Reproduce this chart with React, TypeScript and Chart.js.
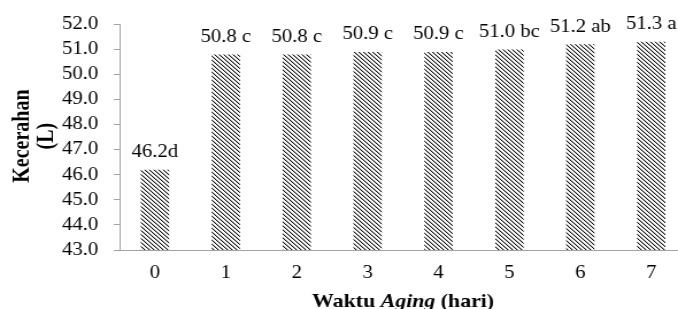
import React, { useEffect, useRef } from 'react';
import { Chart, registerables } from 'chart.js';

Chart.register(...registerables);

// ---- data ----
const categories = ['0', '1', '2', '3', '4', '5', '6', '7'];
const values = [46.2, 50.8, 50.8, 50.9, 50.9, 51.0, 51.2, 51.3];
const valueLabels = ['46.2d', '50.8 c', '50.8 c', '50.9 c', '50.9 c', '51.0 bc', '51.2 ab', '51.3 a'];
const yMin = 43;
const yMax = 52;
const yStep = 1;
const yTitleLines = ['Kecerahan', '(L)'];
const xTitleParts = [
  { text: 'Waktu ', italic: false },
  { text: 'Aging', italic: true },
  { text: ' (hari)', italic: false },
];

// ---- layout / style ----
const SERIF = '"Liberation Serif", "Times New Roman", serif';
const STRETCH = 678 / 590; // reference is horizontally stretched
const CW = 610;
const CH = 309;
const AXIS = '#a3a3a3';

function makeHatch(): CanvasPattern | string {
  const c = document.createElement('canvas');
  c.width = 4;
  c.height = 4;
  const g = c.getContext('2d');
  if (!g) return '#888';
  g.fillStyle = '#ffffff';
  g.fillRect(0, 0, 4, 4);
  for (let y = 0; y < 4; y++) {
    for (let x = 0; x < 4; x++) {
      const d = (((x - y) % 4) + 4) % 4;
      if (d === 0) {
        g.fillStyle = '#111111';
        g.fillRect(x, y, 1, 1);
      } else if (d === 1) {
        g.fillStyle = '#b8b8b8';
        g.fillRect(x, y, 1, 1);
      }
    }
  }
  const p = g.createPattern(c, 'repeat');
  return p || '#888';
}

const labelPlugin = {
  id: 'valueLabels',
  afterDatasetsDraw(chart: any) {
    const { ctx } = chart;
    const meta = chart.getDatasetMeta(0);
    ctx.save();
    ctx.fillStyle = '#000';
    ctx.font = `18px ${SERIF}`;
    ctx.textAlign = 'center';
    ctx.textBaseline = 'alphabetic';
    meta.data.forEach((bar: any, i: number) => {
      ctx.fillText(valueLabels[i], bar.x, bar.y - 12.5);
    });
    ctx.restore();
  },
};

const titlePlugin = {
  id: 'axisTitles',
  afterDraw(chart: any) {
    const { ctx, chartArea } = chart;
    ctx.save();
    ctx.fillStyle = '#000';
    // y title (rotated, two lines)
    ctx.font = `bold 20px ${SERIF}`;
    ctx.textAlign = 'center';
    ctx.textBaseline = 'alphabetic';
    const cy = (chartArea.top + chartArea.bottom) / 2 - 1;
    const baselines = [24.6, 45.5];
    yTitleLines.forEach((line, i) => {
      ctx.save();
      ctx.translate(baselines[i], cy);
      ctx.rotate(-Math.PI / 2);
      ctx.fillText(line, 0, 0);
      ctx.restore();
    });
    // x title (mixed italic)
    const fontFor = (it: boolean) => `${it ? 'italic ' : ''}bold 19px ${SERIF}`;
    let total = 0;
    const widths = xTitleParts.map((p) => {
      ctx.font = fontFor(p.italic);
      const w = ctx.measureText(p.text).width;
      total += w;
      return w;
    });
    let x = (chartArea.left + chartArea.right) / 2 - total / 2;
    ctx.textAlign = 'left';
    xTitleParts.forEach((p, i) => {
      ctx.font = fontFor(p.italic);
      ctx.fillText(p.text, x, chart.height - 2.5);
      x += widths[i];
    });
    ctx.restore();
  },
};

export default function App() {
  const ref = useRef<HTMLCanvasElement>(null);

  useEffect(() => {
    const canvas = ref.current;
    if (!canvas) return;
    const hatch = makeHatch();
    const chart = new Chart(canvas, {
      type: 'bar',
      data: {
        labels: categories,
        datasets: [
          {
            data: values,
            backgroundColor: hatch as any,
            borderWidth: 0,
            barPercentage: 0.8,
            categoryPercentage: 0.5,
          },
        ],
      },
      options: {
        responsive: false,
        animation: false,
        devicePixelRatio: 1,
        layout: { padding: { left: 40.5, right: 12.5, top: 22.7, bottom: 12.4 } },
        plugins: {
          legend: { display: false },
          tooltip: { enabled: false },
          title: { display: false },
        },
        scales: {
          x: {
            grid: { display: false, drawTicks: false },
            border: { display: true, color: AXIS, width: 1 },
            ticks: { color: '#000', font: { family: SERIF, size: 18 }, padding: 12.5 },
          },
          y: {
            min: yMin,
            max: yMax,
            grid: { drawOnChartArea: false, drawTicks: true, tickLength: 5, color: AXIS },
            border: { display: true, color: AXIS, width: 1 },
            ticks: {
              stepSize: yStep,
              autoSkip: false,
              color: '#000',
              font: { family: SERIF, size: 18 },
              padding: 13.5,
              callback: (v: any) => Number(v).toFixed(1),
            },
          },
        },
      },
      plugins: [labelPlugin, titlePlugin],
    });
    return () => chart.destroy();
  }, []);

  return (
    <div
      style={{
        position: 'fixed',
        left: 0,
        top: 0,
        width: 678,
        height: 309,
        overflow: 'hidden',
        background: '#fff',
      }}
    >
      <canvas
        ref={ref}
        width={CW}
        height={CH}
        style={{ width: `${CW * STRETCH}px`, height: `${CH}px`, display: 'block' }}
      />
    </div>
  );
}
